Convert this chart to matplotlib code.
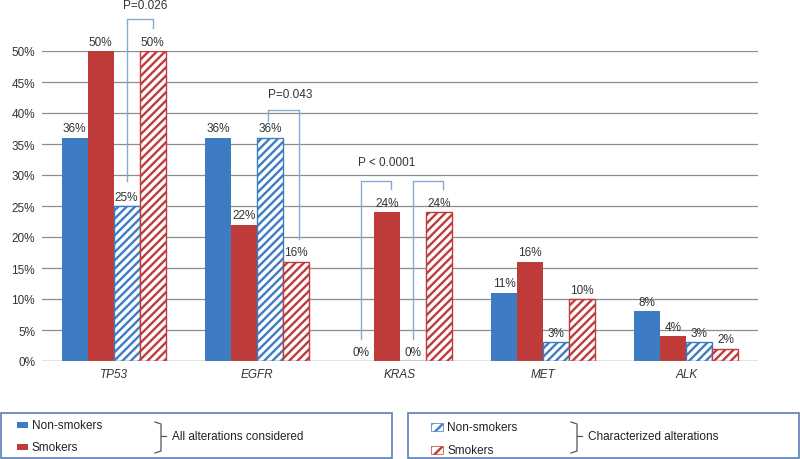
import numpy as np
import matplotlib.pyplot as plt
from matplotlib.patches import Rectangle
from matplotlib.lines import Line2D

plt.rcParams['font.family'] = ['Liberation Sans', 'DejaVu Sans']
plt.rcParams['hatch.linewidth'] = 1.7

genes = ['TP53', 'EGFR', 'KRAS', 'MET', 'ALK']
all_non = [36, 36, 0, 11, 8]
all_smk = [50, 22, 24, 16, 4]
char_non = [25, 36, 0, 3, 3]
char_smk = [50, 16, 24, 10, 2]
yticks = [0, 5, 10, 15, 20, 25, 30, 35, 40, 45, 50]

blue = '#3D7CC2'
red = '#BE3B3A'
brk = '#86A9D6'
W, H = 800, 460

fig = plt.figure(figsize=(8, 4.6), dpi=100)
ax = fig.add_axes([42/W, 1-362/H, 716/W, 310/H])

x = np.arange(len(genes))
w = 0.1816
series = [(all_non, blue, False), (all_smk, red, False),
          (char_non, blue, True), (char_smk, red, True)]
for i, (vals, c, hatched) in enumerate(series):
    pos = x + (i - 1.5) * w
    if hatched:
        bars = ax.bar(pos, vals, w, facecolor='white', edgecolor=c,
                      hatch='////', linewidth=1, zorder=3)
    else:
        bars = ax.bar(pos, vals, w, color=c, zorder=3)
    for b, v in zip(bars, vals):
        ax.annotate(f'{v}%', (b.get_x() + b.get_width()/2, v),
                    xytext=(0, 2.5), textcoords='offset points',
                    ha='center', va='bottom', fontsize=8.5, color='#333333')

ax.set_xlim(-0.5, 4.5)
ax.set_ylim(0, 50)
ax.set_yticks(yticks)
ax.set_yticklabels([f'{t}%' for t in yticks], fontsize=8.5, color='#333333')
ax.set_xticks(x)
ax.set_xticklabels(genes, fontstyle='italic', fontsize=8.5, color='#333333')
ax.tick_params(length=0, pad=5)
ax.yaxis.grid(True, color='#8C8C8C', lw=0.9, zorder=0)
for s in ax.spines.values():
    s.set_visible(False)
ax.axhline(0, color='#8C8C8C', lw=0.9, zorder=4)

# p-value brackets (bar centres, leg bottoms, top)
def bracket(x1, x2, y1, y2, top):
    ax.plot([x1, x1, x2, x2], [y1, top, top, y2], color=brk, lw=1,
            clip_on=False, zorder=5)

bracket(0 + 0.5*w, 0 + 1.5*w, 29, 53.7, 55.2)
ax.text(0.219, 57.4, 'P=0.026', ha='center', va='center', fontsize=8.5,
        color='#333333', clip_on=False)
bracket(1 + 0.5*w - 0.01, 1 + 1.5*w + 0.02, 38.7, 19.7, 40.5)
ax.text(1.23, 43.1, 'P=0.043', ha='center', va='center', fontsize=8.5,
        color='#333333')
bracket(2 - 1.5*w, 2 - 0.5*w + 0.03, 3.5, 27.7, 29.1)
bracket(2 + 0.5*w, 2 + 1.5*w + 0.03, 3.5, 27.7, 29.1)
ax.text(1.909, 32.1, 'P < 0.0001', ha='center', va='center', fontsize=8.5,
        color='#333333')

# legend boxes
def fx(px):
    return px / W

def fy(py):
    return 1 - py / H

def box(x0, x1):
    fig.add_artist(Rectangle((fx(x0), fy(459)), fx(x1) - fx(x0), fy(414) - fy(459),
                             transform=fig.transFigure, fill=False,
                             edgecolor='#5B7FB5', lw=1.2))

def curly(xb, label):
    fig.add_artist(Line2D([fx(xb - 6), fx(xb), fx(xb), fx(xb - 6)],
                          [fy(423), fy(425), fy(452), fy(454)],
                          transform=fig.transFigure, color='#555555', lw=0.9))
    fig.add_artist(Line2D([fx(xb), fx(xb + 5)], [fy(437), fy(437)],
                          transform=fig.transFigure, color='#555555', lw=0.9))
    fig.text(fx(xb + 11), fy(437), label, ha='left', va='center', fontsize=8.5,
             color='#222222')

box(1, 392)
box(408, 799)
for py, c, lab in [(426, blue, 'Non-smokers'), (448, red, 'Smokers')]:
    fig.add_artist(Rectangle((fx(17), fy(py + 3)), fx(11), 6/H, transform=fig.transFigure,
                             facecolor=c, edgecolor='none'))
    fig.text(fx(32), fy(py), lab, ha='left', va='center', fontsize=8.5, color='#222222')
curly(161, 'All alterations considered')
for py, c, lab in [(428, blue, 'Non-smokers'), (451, red, 'Smokers')]:
    fig.add_artist(Rectangle((fx(431), fy(py + 4)), fx(12), 8/H, transform=fig.transFigure,
                             facecolor='white', edgecolor=c, hatch='///', lw=0.5))
    fig.text(fx(447), fy(py), lab, ha='left', va='center', fontsize=8.5, color='#222222')
curly(577, 'Characterized alterations')

fig.savefig('out.png', dpi=100)
